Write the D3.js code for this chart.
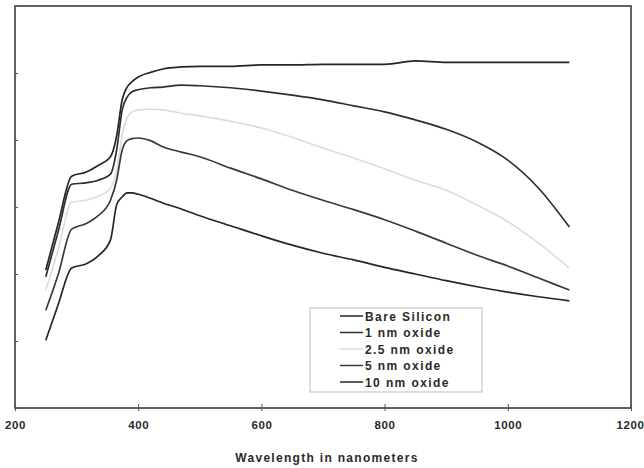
<!DOCTYPE html>
<html><head><meta charset="utf-8">
<script src="https://cdn.jsdelivr.net/npm/d3@7"></script>
<style>
html,body{margin:0;padding:0;background:#fff;}
svg{display:block;}
text{font-family:"Liberation Sans",Arial,sans-serif;font-weight:bold;fill:#2a2a2a;}
</style></head>
<body>
<svg id="chart" width="644" height="468"></svg>
<script>
const wavelengths = [250,270,292,315,335,355,365,374,382,390,400,420,440,470,500,550,600,650,700,750,800,850,900,950,1000,1050,1100];
const bareSilicon = [20.6,27.5,34.6,35.2,36.2,37.5,40.6,46.0,47.9,48.7,49.4,50.1,50.6,50.9,51.0,51.0,51.2,51.2,51.3,51.3,51.3,51.8,51.6,51.6,51.6,51.6,51.6];
const oxide1nm    = [19.6,26.3,33.4,33.6,34.0,34.9,38.5,44.5,46.4,47.2,47.5,47.8,47.9,48.2,48.1,47.8,47.3,46.7,46.0,45.1,44.2,43.0,41.6,39.7,37.0,32.8,27.0];
const oxide2_5nm  = [17.6,23.6,30.7,31.0,31.6,32.8,35.5,40.7,43.3,44.2,44.5,44.6,44.5,44.0,43.6,42.8,41.8,40.4,38.8,37.3,35.7,34.0,32.5,30.3,27.8,24.6,20.9];
const oxide5nm    = [14.6,19.9,26.7,27.5,28.7,31.0,34.0,38.5,39.9,40.2,40.3,39.9,39.0,38.2,37.5,35.8,34.2,32.5,31.0,29.6,28.1,26.4,24.6,22.8,21.2,19.4,17.6];
const oxide10nm   = [10.1,15.4,20.9,21.5,22.7,25.1,30.3,31.5,32.1,32.1,31.9,31.3,30.6,29.7,28.7,27.2,25.7,24.3,23.1,22.1,21.0,20.0,19.0,18.1,17.3,16.6,16.0];
const seriesNames = ["Bare Silicon","1 nm oxide","2.5 nm oxide","5 nm oxide","10 nm oxide"];
const seriesColors = ["#262626","#2e2e2e","#dcdcdc","#3a3a3a","#262626"];
const xTicks = [200,400,600,800,1000,1200];
const yTicks = [0,10,20,30,40,50,60];
const xTitle = "Wavelength in nanometers";

const seriesValues = [bareSilicon, oxide1nm, oxide2_5nm, oxide5nm, oxide10nm];
const svg = d3.select("#chart");
const L = 15, R = 631, T = 6, B = 408;
const x = d3.scaleLinear().domain([200,1200]).range([L,R]);
const y = d3.scaleLinear().domain([0,60]).range([B,T]);

// frame
svg.append("rect").attr("x",L).attr("y",T).attr("width",R-L).attr("height",B-T)
  .attr("fill","none").attr("stroke","#3c3c3c").attr("stroke-width",1.6);

// x axis
const xAxis = svg.append("g").attr("transform",`translate(0,${B})`)
  .call(d3.axisBottom(x).tickValues(xTicks).tickFormat(d3.format("d"))
    .tickSizeInner(-4).tickSizeOuter(0).tickPadding(13));
xAxis.select(".domain").remove();
xAxis.selectAll("line").attr("stroke","#555").attr("y1",3);
xAxis.selectAll("text").attr("font-size",11.5).attr("letter-spacing","0.6px").attr("fill","#2a2a2a");
xAxis.selectAll("text").filter(d=>d===1200).attr("text-anchor","end").attr("dx",13);

// y axis ticks (no labels)
const yAxis = svg.append("g").attr("transform",`translate(${L},0)`)
  .call(d3.axisLeft(y).tickValues(yTicks).tickSizeInner(3).tickSizeOuter(0).tickFormat(""));
yAxis.select(".domain").remove();
yAxis.selectAll("line").attr("stroke","#555").attr("x2",3);

// lines
const line = d3.line().x((d,i)=>x(wavelengths[i])).y(d=>y(d)).curve(d3.curveMonotoneX);
seriesValues.forEach((vals,k)=>{
  svg.append("path").datum(vals).attr("d",line).attr("fill","none")
    .attr("stroke",seriesColors[k]).attr("stroke-width",k===2?1.6:1.7);
});

// x title
svg.append("text").attr("x",(L+R)/2+4).attr("y",462).attr("text-anchor","middle")
  .attr("font-size",12).attr("letter-spacing","1.3px").text(xTitle);

// legend
const lg = svg.append("g");
lg.append("rect").attr("x",310).attr("y",308).attr("width",172).attr("height",84)
  .attr("fill","#fff").attr("stroke","#bbb").attr("stroke-width",1);
seriesNames.forEach((n,k)=>{
  const yy = 316 + k*16.5;
  lg.append("line").attr("x1",340).attr("x2",363).attr("y1",yy).attr("y2",yy)
    .attr("stroke",seriesColors[k]).attr("stroke-width",1.5);
  lg.append("text").attr("x",365).attr("y",yy+4.5).attr("font-size",12)
    .attr("letter-spacing","1.4px").attr("fill","#333").text(n);
});
</script>
</body></html>
